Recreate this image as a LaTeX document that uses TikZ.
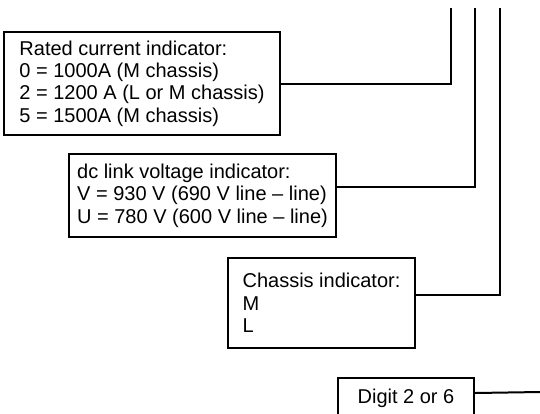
\documentclass[tikz,border=0pt]{standalone}
\usepackage{fontspec}
\setmainfont{Liberation Sans}
\usetikzlibrary{positioning}

\tikzset{
  indbox/.style={draw, line width=2pt, anchor=north west, align=left,
    inner sep=0pt, font=\fontsize{20}{22.4}\selectfont},
  wire/.style={line width=2pt}
}

\begin{document}
\begin{tikzpicture}[x=1pt,y=-1pt]
	\clip (0,0) rectangle (540,413);
	% indicator boxes
	\node[indbox, minimum width=276pt, minimum height=103pt] (rated) at (3,31)
		{Rated current indicator:\\0 = 1000A (M chassis)\\2 = 1200 A (L or M chassis)\\5 = 1500A (M chassis)};
	\node[indbox, minimum width=267pt, minimum height=83pt] (dclink) at (68,153)
		{dc link voltage indicator:\\V = 930 V (690 V line \textendash{} line)\\U = 780 V (600 V line \textendash{} line)};
	\node[indbox, minimum width=187pt, minimum height=90pt] (chassis) at (227,257)
		{Chassis indicator:\\M\\L};
	\node[indbox, minimum width=136pt, minimum height=40pt] (digit) at (337,377)
		{Digit 2 or 6};
	% free ends of the wires
	\coordinate (ratedtop) at (451,8);
	\coordinate (dctop) at (475,8);
	\coordinate (chassistop) at (500,8);
	\coordinate (digitend) at (540,392);
	% wires
	\draw[wire] (rated.east) -| (ratedtop);
	\draw[wire] ([yshift=8.5pt]dclink.east) -| (dctop);
	\draw[wire] ([yshift=8pt]chassis.east) -| (chassistop);
	\draw[wire] ([yshift=5pt]digit.east) -- (digitend);
\end{tikzpicture}
\end{document}
